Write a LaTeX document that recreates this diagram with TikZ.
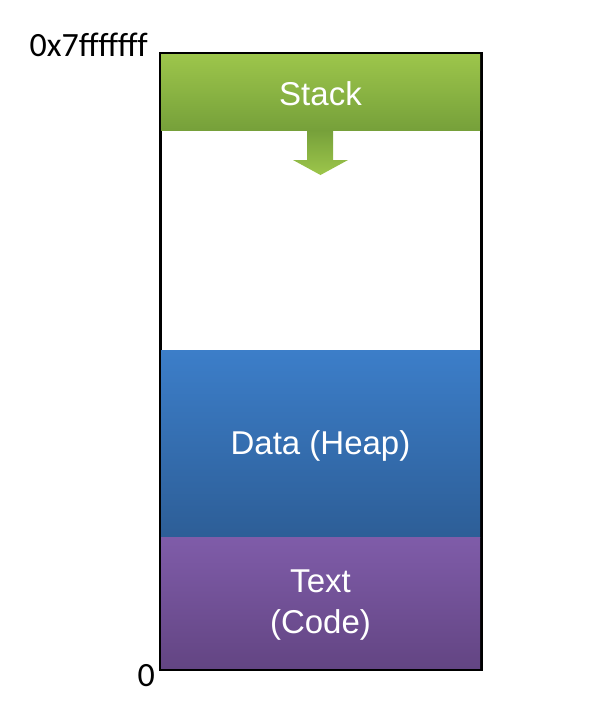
\documentclass[tikz,border=0pt]{standalone}
\usepackage{fontspec}
\setmainfont{Liberation Sans}
\newfontfamily\calib{Carlito}
\definecolor{stackTop}{HTML}{9DC64B}
\definecolor{stackBot}{HTML}{76A03A}
\definecolor{heapTop}{HTML}{3C7EC9}
\definecolor{heapBot}{HTML}{2D5E97}
\definecolor{codeTop}{HTML}{7F5CA9}
\definecolor{codeBot}{HTML}{634583}
\tikzset{
  seg/.style={inner sep=0pt, minimum width=319pt, text=white, font=\fontsize{33}{41}\selectfont, align=center},
  addr/.style={font=\calib\fontsize{34}{38}\selectfont, inner sep=0pt}
}
\begin{document}
\begin{tikzpicture}[x=1pt,y=-1pt]
\useasboundingbox (0,0) rectangle (608,710);
% outline (drawn first; boxes cover its inner half)
\coordinate (otl) at (160,53);
\coordinate (obr) at (481,669);
\draw[line width=3pt] (otl) rectangle (obr);
% segments
\node[seg, minimum height=76pt, top color=stackTop, bottom color=stackBot] (stack) at (320.5,92) {};
\node[seg, minimum height=187pt, top color=heapTop, bottom color=heapBot] (heap) at (320.5,443.5) {};
\node[seg, minimum height=131pt, top color=codeTop, bottom color=codeBot] (code) at (320.5,602.5) {};
\node[seg] (stackt) at (320.5,94) {Stack};
\node[seg] (heapt) at (320.5,446) {Data (Heap)};
\node[seg] (codet) at (320.5,605) {Text\\(Code)};
% arrow
\shade[top color=stackBot, bottom color=stackTop] (307,130) -- (333,130) -- (333,160) -- (348,160) -- (320.5,175) -- (293,160) -- (307,160) -- cycle;
% labels
\node[addr, anchor=base east] (top) at (148,56) {0x7fffffff};
\node[addr, anchor=base east] (zero) at (155,686) {0};
\end{tikzpicture}
\end{document}
